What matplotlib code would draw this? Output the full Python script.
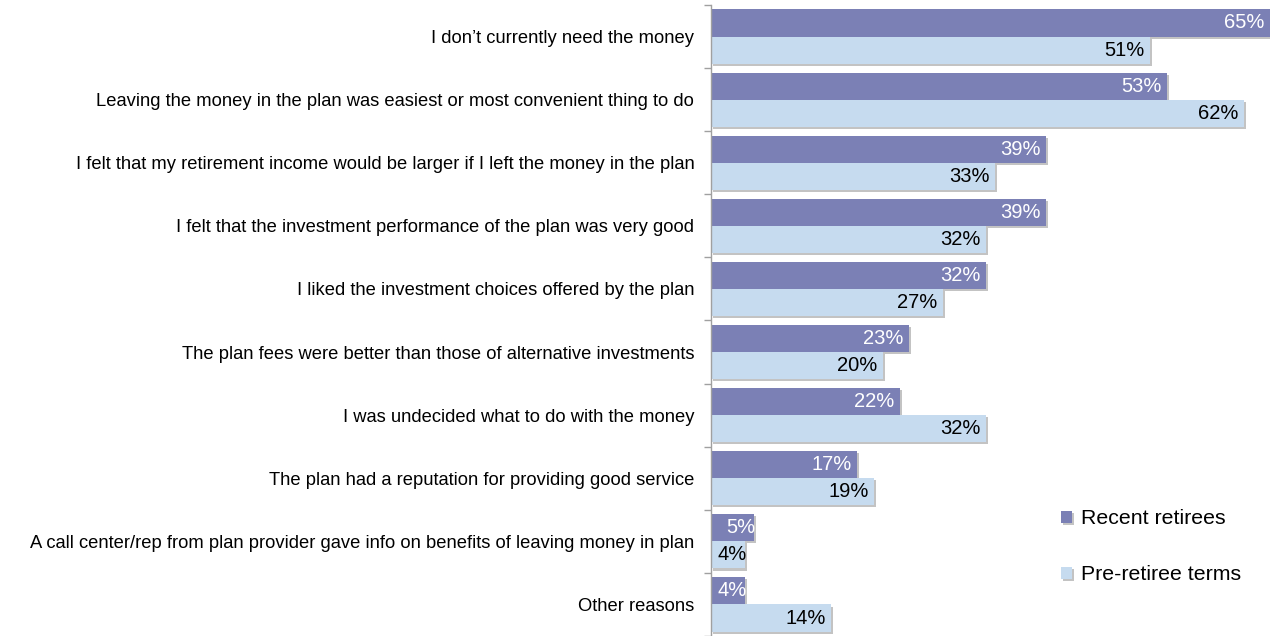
import matplotlib
matplotlib.use("Agg")
import matplotlib.pyplot as plt
import matplotlib.patheffects as pe
import numpy as np

categories = [
    "I don\u2019t currently need the money",
    "Leaving the money in the plan was easiest or most convenient thing to do",
    "I felt that my retirement income would be larger if I left the money in the plan",
    "I felt that the investment performance of the plan was very good",
    "I liked the investment choices offered by the plan",
    "The plan fees were better than those of alternative investments",
    "I was undecided what to do with the money",
    "The plan had a reputation for providing good service",
    "A call center/rep from plan provider gave info on benefits of leaving money in plan",
    "Other reasons",
]
recent_retirees = [65, 53, 39, 39, 32, 23, 22, 17, 5, 4]
pre_retiree_terms = [51, 62, 33, 32, 27, 20, 32, 19, 4, 14]
series_names = ["Recent retirees", "Pre-retiree terms"]

plt.rcParams['font.family'] = ['Liberation Sans', 'DejaVu Sans']

c_purple = "#7B80B5"
c_blue = "#C6DBEF"

fig = plt.figure(figsize=(12.72, 6.36), dpi=100)
ax = fig.add_axes([711/1272, 0.0, 1 - 711/1272 - 2/1272, 1 - 5/636])

y = np.arange(len(categories))
h = 0.43
shadow = [pe.SimplePatchShadow(offset=(1.5, -1.5), shadow_rgbFace="#888888", alpha=0.5), pe.Normal()]
b1 = ax.barh(y - h/2, recent_retirees, height=h, color=c_purple, label=series_names[0])
b2 = ax.barh(y + h/2, pre_retiree_terms, height=h, color=c_blue, label=series_names[1])
for b in list(b1) + list(b2):
    b.set_path_effects(shadow)

def off(v):
    return -4 if v >= 10 else 1

for yi, v in zip(y, recent_retirees):
    ax.annotate(f"{v}%", (v, yi - h/2), xytext=(off(v), 0), textcoords="offset points",
                ha="right", va="center", color="white", fontsize=14.5)
for yi, v in zip(y, pre_retiree_terms):
    ax.annotate(f"{v}%", (v, yi + h/2), xytext=(off(v), 0), textcoords="offset points",
                ha="right", va="center", color="black", fontsize=14.5)

ax.set_xlim(0, 65)
ax.set_ylim(len(categories) - 0.5, -0.5)
ax.set_yticks(y)
ax.set_yticklabels(categories, fontsize=13.2)
ax.tick_params(axis="y", which="major", length=0, pad=12)
ax.set_yticks(np.arange(-0.5, len(categories) + 0.5, 1), minor=True)
ax.tick_params(axis="y", which="minor", length=5, color="#A0A0A0", width=1)
ax.set_xticks([])
for s in ["top", "right", "bottom"]:
    ax.spines[s].set_visible(False)
ax.spines["left"].set_color("#A0A0A0")
ax.spines["left"].set_linewidth(1)

leg = fig.legend(handles=[b1, b2], labels=series_names, loc="upper left",
                 bbox_to_anchor=(1042/1272, 1 - 490/636), frameon=False,
                 fontsize=15.3, handlelength=0.5, handleheight=0.5,
                 handletextpad=0.45, labelspacing=1.75)

fig.savefig("out.png", dpi=100)
